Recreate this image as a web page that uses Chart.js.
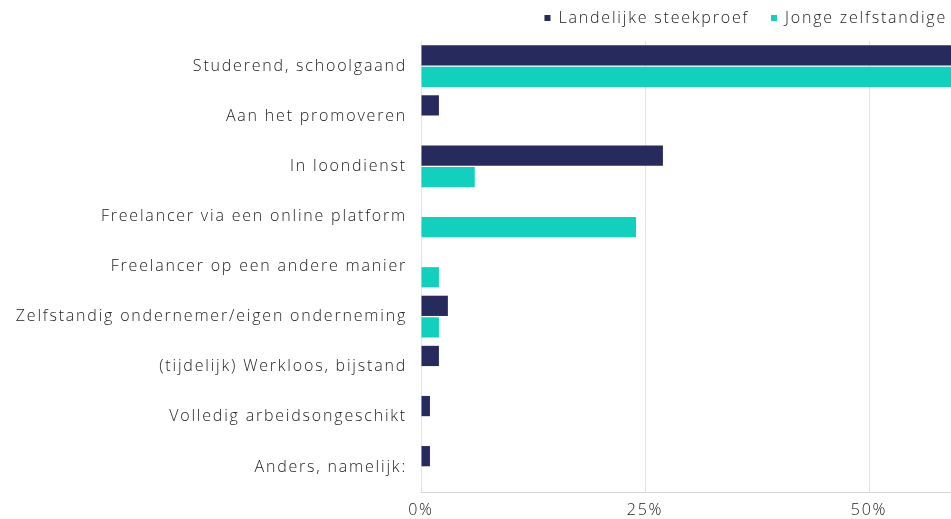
<!DOCTYPE html>
<html>
<head>
<meta charset="utf-8">
<script src="https://cdn.jsdelivr.net/npm/chart.js@4"></script>
<style>
html,body{margin:0;padding:0;background:#fff;}
#wrap{width:951px;height:519px;position:relative;}
</style>
</head>
<body>
<div id="wrap"><canvas id="c" width="951" height="519"></canvas></div>
<script>
const categories = [
  "Studerend, schoolgaand",
  "Aan het promoveren",
  "In loondienst",
  "Freelancer via een online platform",
  "Freelancer op een andere manier",
  "Zelfstandig ondernemer/eigen onderneming",
  "(tijdelijk) Werkloos, bijstand",
  "Volledig arbeidsongeschikt",
  "Anders, namelijk:"
];
const seriesNames = ["Landelijke steekproef", "Jonge zelfstandige"];
const landelijke = [65, 2, 27, 0, 0, 3, 2, 1, 1];
const jonge = [63, 0, 6, 24, 2, 2, 0, 0, 0];
const xTicks = [0, 25, 50];

const LS = '1.8px';
const spacing = {
  id: 'spacing',
  beforeUpdate(chart){ chart.ctx.letterSpacing = LS; },
  beforeLayout(chart){ chart.ctx.letterSpacing = LS; },
  beforeDraw(chart){ chart.ctx.letterSpacing = LS; }
};

const FONT = { family: 'Open Sans', size: 16, weight: '300' };

new Chart(document.getElementById('c'), {
  type: 'bar',
  data: {
    labels: categories,
    datasets: [
      { label: seriesNames[0], data: landelijke, backgroundColor: '#272a5c', borderWidth: 0 },
      { label: seriesNames[1], data: jonge, backgroundColor: '#11d1be', borderWidth: 0 }
    ]
  },
  options: {
    indexAxis: 'y',
    responsive: false,
    animation: false,
    devicePixelRatio: 1,
    layout: { padding: { left: 0, right: -6, top: 0, bottom: 0 } },
    datasets: { bar: { categoryPercentage: 0.86, barPercentage: 0.94 } },
    plugins: {
      legend: {
        position: 'top',
        align: 'end',
        labels: {
          usePointStyle: true,
          pointStyle: 'rect',
          boxWidth: 6,
          boxHeight: 6,
          padding: 10,
          color: '#222',
          font: FONT,
          generateLabels(chart){
            const items = Chart.defaults.plugins.legend.labels.generateLabels(chart);
            items.forEach((it, i) => { if (i < items.length - 1) it.text = it.text + '  '; });
            return items;
          }
        }
      },
      tooltip: { enabled: false }
    },
    scales: {
      x: {
        min: 0,
        max: 59.15,
        afterBuildTicks(axis){ axis.ticks = xTicks.map(v => ({ value: v })); },
        afterFit(axis){ axis.height = 27; },
        grid: { color: '#e3e3e3', drawTicks: false },
        border: { color: '#d6d6d6' },
        ticks: {
          color: '#222',
          padding: 9,
          font: FONT,
          callback: v => v + '%'
        }
      },
      xTop: {
        type: 'linear',
        position: 'top',
        axis: 'x',
        min: 0,
        max: 1,
        grid: { display: false, drawTicks: false },
        border: { display: false },
        ticks: { display: false },
        afterFit(axis){ axis.height = 5; }
      },
      y: {
        grid: { display: false, drawTicks: false },
        border: { display: false },
        afterFit(axis){ axis.width = 421; },
        ticks: {
          color: '#222',
          padding: 14,
          font: FONT
        }
      }
    }
  },
  plugins: [spacing]
});
</script>
</body>
</html>
